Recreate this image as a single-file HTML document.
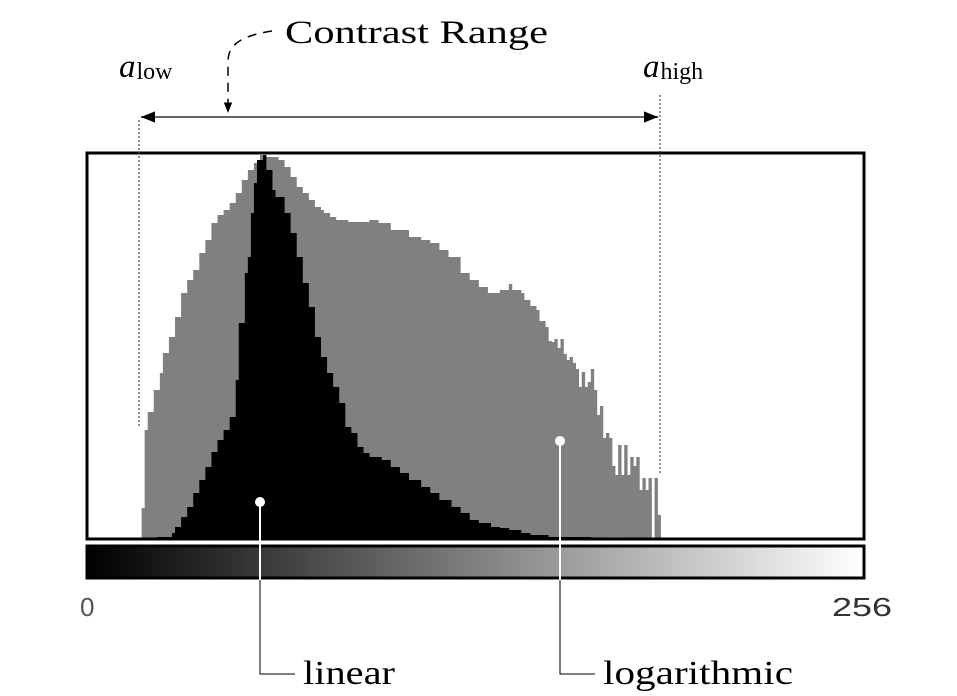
<!DOCTYPE html>
<html><head><meta charset="utf-8"><style>
html,body{margin:0;padding:0;background:#fff;}
svg{display:block;}
.serif{font-family:"Liberation Serif","DejaVu Serif",serif;}
</style></head><body>
<svg id="chart" width="957" height="696" viewBox="0 0 957 696">
<defs>
<linearGradient id="grad" x1="0" x2="1" y1="0" y2="0"><stop offset="0" stop-color="#000"/><stop offset="1" stop-color="#fff"/></linearGradient>
<marker id="ah" viewBox="0 0 10 10" refX="10" refY="5" markerWidth="7" markerHeight="7" orient="auto-start-reverse"><path d="M0,1 L10,5 L0,9 z" fill="#000"/></marker>
</defs>
<g id="bars"></g>
<rect x="87" y="153" width="777" height="386" fill="none" stroke="#000" stroke-width="3"/>
<rect x="87" y="546" width="777" height="32" fill="url(#grad)" stroke="#000" stroke-width="3"/>
<line x1="139" y1="120" x2="139" y2="428" stroke="#444" stroke-width="1.2" stroke-dasharray="2,2"/>
<line x1="660" y1="95" x2="660" y2="473" stroke="#444" stroke-width="1.2" stroke-dasharray="2,2"/>
<line x1="141" y1="117" x2="658" y2="117" stroke="#666" stroke-width="2" marker-start="url(#ah)" marker-end="url(#ah)"/>
<path d="M272,31 C240,36 228,45 228,62 L228,113" fill="none" stroke="#000" stroke-width="1.5" stroke-dasharray="9,7" marker-end="url(#ah)"/>
<text x="285" y="43" class="serif" font-size="33" textLength="263" lengthAdjust="spacingAndGlyphs">Contrast Range</text>
<text x="119" y="77" class="serif" font-size="33" font-style="italic">a<tspan font-style="normal" font-size="24" dx="1" dy="2">low</tspan></text>
<text x="643" y="77" class="serif" font-size="33" font-style="italic">a<tspan font-style="normal" font-size="24" dx="1" dy="2">high</tspan></text>
<text x="80" y="616" font-family="Liberation Sans,sans-serif" font-size="26" fill="#555">0</text>
<text x="832" y="616" font-family="Liberation Sans,sans-serif" font-size="26" fill="#333" textLength="60" lengthAdjust="spacingAndGlyphs">256</text>
<line x1="260" y1="502" x2="260" y2="580" stroke="#fff" stroke-width="2"/>
<circle cx="260" cy="502" r="5" fill="#fff"/>
<polyline points="260,580 260,674 295,674" fill="none" stroke="#000" stroke-width="1"/>
<text x="303" y="684" class="serif" font-size="34" textLength="92" lengthAdjust="spacingAndGlyphs">linear</text>
<line x1="560" y1="441" x2="560" y2="580" stroke="#fff" stroke-width="2"/>
<circle cx="560" cy="441" r="5" fill="#fff"/>
<polyline points="560,580 560,674 595,674" fill="none" stroke="#000" stroke-width="1"/>
<text x="603" y="684" class="serif" font-size="34" textLength="190" lengthAdjust="spacingAndGlyphs">logarithmic</text>
</svg>
<script>
const logBins=[18,19,20,22,24,25,27,29,31,33,35,37,39,41,43,45,47,49,51,53,55,57,59,61,63,65,67,69,71,73,75,77,78,80,82,84,86,93,96,100,103,106,110,113,116,119,123,126,129,132,136,139,140,143,144,146,148,149,151,152,153,154,155,156,157,158,159,160,161,162,163,164,165,166,167,168,169,170,171,172,173,174,175,176,177,178,179,180,181,182,183,184,185,186,187,188,189];
const logCounts=[30,108,126,148,165,185,201,221,245,258,268,285,298,315,323,328,335,345,358,368,375,383,381,381,378,371,361,351,345,338,331,328,325,321,318,318,316,318,315,308,308,301,298,295,288,281,265,258,251,245,248,254,248,245,238,232,228,217,211,197,196,199,190,199,184,178,181,175,169,151,166,151,156,169,148,123,132,100,105,100,72,63,93,63,93,63,81,72,81,48,60,48,60,0,60,23,0];
const linBins=[23,28,29,31,33,35,37,39,41,43,45,47,49,50,52,53,54,55,56,58,59,61,62,65,67,69,71,73,75,77,79,81,83,85,87,89,91,93,97,100,103,106,110,113,116,120,123,126,129,133,136,139,143,146,152,166];
const linCounts=[1,5,11,21,31,45,58,71,86,98,108,121,158,215,265,281,325,355,378,383,368,348,341,325,305,281,255,231,201,181,165,151,135,111,105,91,85,81,78,71,65,58,51,45,38,31,25,18,15,11,10,8,5,3,1,0];
const X0=87,X1=864,YB=538,YT=155,MAXC=383;
const xs=i=>X0+(X1-X0)*i/256;
const ys=c=>YB-(YB-YT)*c/MAXC;
const g=document.getElementById('bars');
function draw(bins,counts,fill,name){
  for(let k=0;k<bins.length-1;k++){
    if(counts[k]<=0)continue;
    const r=document.createElementNS('http://www.w3.org/2000/svg','rect');
    const x=xs(bins[k]),x2=xs(bins[k+1]);
    r.setAttribute('x',x);r.setAttribute('width',x2-x+0.3);
    r.setAttribute('y',ys(counts[k]));r.setAttribute('height',YB-ys(counts[k])+1);
    r.setAttribute('fill',fill);
    
    
    g.appendChild(r);
  }
}
draw(logBins,logCounts,'#808080','log-histogram-bar');
draw(linBins,linCounts,'#000','linear-histogram-bar');
</script>
</body></html>
